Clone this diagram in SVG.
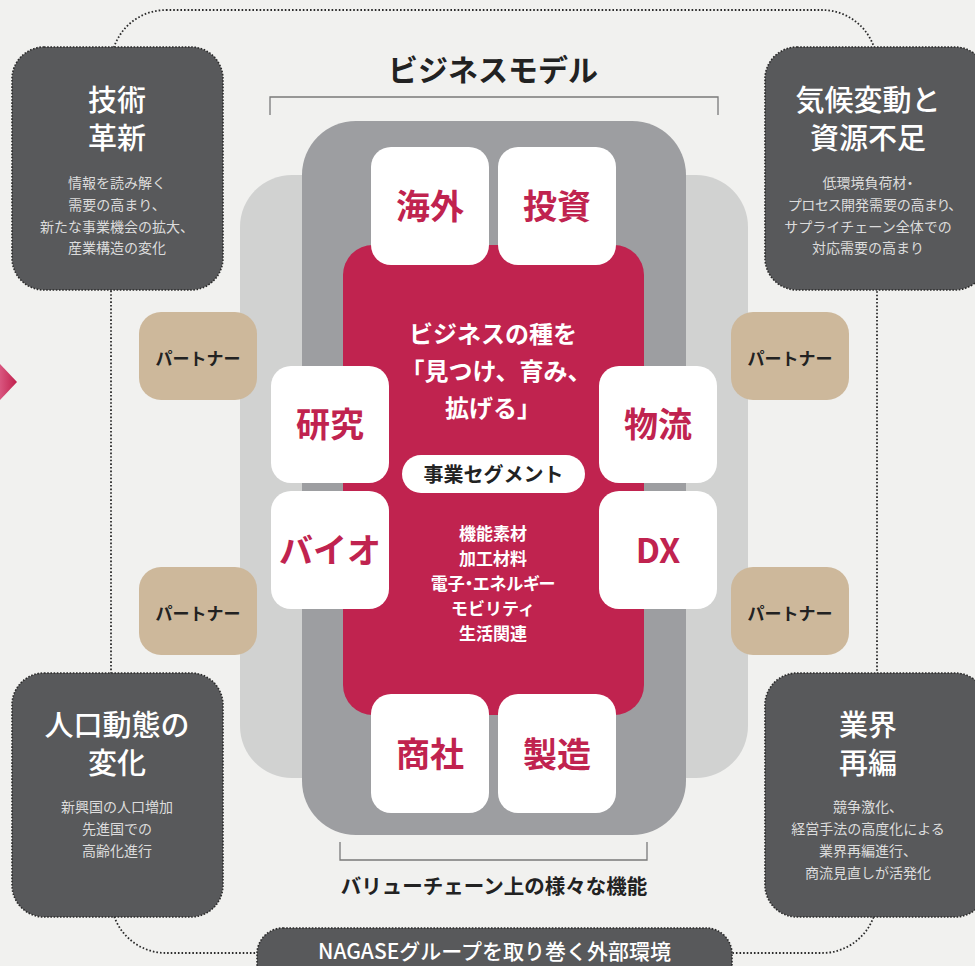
<svg xmlns="http://www.w3.org/2000/svg" width="975" height="966" viewBox="0 0 975 966">
<defs>
<linearGradient id="arrowGrad" x1="0" y1="0" x2="1" y2="0">
<stop offset="0" stop-color="#d9567f"/>
<stop offset="1" stop-color="#c0204c"/>
</linearGradient>
<style>
text{font-family:"Noto Sans CJK JP","Noto Sans",sans-serif;}
.palt{font-feature-settings:"palt";}
.env{fill:#58595b;stroke:#2b2b2b;stroke-width:1.6;stroke-dasharray:1.6 1.6;}
.envT{fill:#ffffff;font-size:29px;font-weight:500;text-anchor:middle;}
.envS{fill:#dcdcdc;font-size:14px;font-weight:400;text-anchor:middle;}
.white{fill:#ffffff;}
.func{fill:#c0234f;font-size:34px;font-weight:700;text-anchor:middle;}
.partner{fill:#cdb89b;}
.partnerT{fill:#222222;font-size:17px;font-weight:700;text-anchor:middle;}
.seg{fill:#ffffff;font-size:17px;font-weight:700;text-anchor:middle;}
.bracket{fill:none;stroke:#7a7a7a;stroke-width:1.3;}
.dots{fill:none;stroke:#2b2b2b;stroke-width:1.8;stroke-dasharray:1.6 2;}
</style>
</defs>
<rect x="0" y="0" width="975" height="966" fill="#f1f1ef"/>

<g id="connectors">
<rect class="dots" x="111" y="10" width="766" height="943" rx="55" ry="55"/>
</g>

<polygon id="arrow" points="0,364 17,382 0,400" fill="url(#arrowGrad)"/>

<g id="title">
<text x="493" y="81" font-size="30" font-weight="700" fill="#222" text-anchor="middle">ビジネスモデル</text>
<path class="bracket" d="M270,115 V97 H718 V115"/>
</g>

<g id="layers">
<rect x="240" y="175" width="508" height="603" rx="52" fill="#d1d2d1"/>
<rect x="302" y="121" width="384" height="714" rx="54" fill="#9d9ea1"/>
</g>

<g id="core">
<rect x="343" y="245" width="301" height="470" rx="30" fill="#c0234f"/>
<text x="493" y="343" font-size="24" font-weight="700" fill="#fff" text-anchor="middle">ビジネスの種を</text>
<text x="496" y="380" font-size="24" font-weight="700" fill="#fff" text-anchor="middle">「見つけ、育み、</text>
<text x="493" y="417" font-size="24" font-weight="700" fill="#fff" text-anchor="middle">拡げる」</text>
</g>

<g id="segment">
<rect x="402" y="455" width="183" height="38" rx="19" fill="#fff"/>
<text x="493.5" y="482" font-size="20" font-weight="700" fill="#222" text-anchor="middle">事業セグメント</text>
<text class="seg" x="493" y="540">機能素材</text>
<text class="seg" x="493" y="565">加工材料</text>
<text class="seg palt" x="493" y="590">電子・エネルギー</text>
<text class="seg" x="493" y="615">モビリティ</text>
<text class="seg" x="493" y="640">生活関連</text>
</g>

<g id="kaigai"><rect class="white" x="371" y="147" width="118" height="118" rx="20"/><text class="func" x="430" y="219">海外</text></g>
<g id="toushi"><rect class="white" x="498" y="147" width="118" height="118" rx="20"/><text class="func" x="557" y="219">投資</text></g>
<g id="kenkyu"><rect class="white" x="271" y="366" width="118" height="117" rx="20"/><text class="func" x="330" y="437">研究</text></g>
<g id="butsuryu"><rect class="white" x="599" y="366" width="118" height="117" rx="20"/><text class="func" x="658" y="437">物流</text></g>
<g id="bio"><rect class="white" x="271" y="491" width="118" height="118" rx="20"/><text class="func" x="330" y="563">バイオ</text></g>
<g id="dx"><rect class="white" x="599" y="491" width="118" height="118" rx="20"/><text class="func" x="658" y="563" font-size="36">DX</text></g>
<g id="shosha"><rect class="white" x="371" y="694" width="118" height="119" rx="20"/><text class="func" x="430" y="767">商社</text></g>
<g id="seizo"><rect class="white" x="498" y="694" width="118" height="119" rx="20"/><text class="func" x="557" y="767">製造</text></g>

<g id="partner-lt"><rect class="partner" x="139" y="312" width="118" height="88" rx="22"/><text class="partnerT" x="198" y="365">パートナー</text></g>
<g id="partner-lb"><rect class="partner" x="139" y="567" width="118" height="88" rx="22"/><text class="partnerT" x="198" y="620">パートナー</text></g>
<g id="partner-rt"><rect class="partner" x="731" y="312" width="118" height="88" rx="22"/><text class="partnerT" x="790" y="365">パートナー</text></g>
<g id="partner-rb"><rect class="partner" x="731" y="567" width="118" height="88" rx="22"/><text class="partnerT" x="790" y="620">パートナー</text></g>

<g id="bottom-label">
<path class="bracket" d="M340,842 V860 H647 V842"/>
<text x="494" y="894" font-size="20.5" font-weight="700" fill="#222" text-anchor="middle">バリューチェーン上の様々な機能</text>
</g>

<g id="env-tech">
<rect class="env" x="12" y="47" width="211" height="243" rx="32"/>
<text class="envT" x="117" y="111">技術</text>
<text class="envT" x="117" y="149">革新</text>
<text class="envS" x="117" y="188">情報を読み解く</text>
<text class="envS" x="117" y="210">需要の高まり、</text>
<text class="envS" x="117" y="232">新たな事業機会の拡大、</text>
<text class="envS" x="117" y="253">産業構造の変化</text>
</g>

<g id="env-climate">
<rect class="env" x="765" y="47" width="222" height="243" rx="32"/>
<text class="envT" x="868" y="111">気候変動と</text>
<text class="envT" x="868" y="149">資源不足</text>
<text class="envS palt" x="868" y="188">低環境負荷材・</text>
<text class="envS palt" x="872" y="210">プロセス開発需要の高まり、</text>
<text class="envS" x="868" y="232">サプライチェーン全体での</text>
<text class="envS" x="868" y="253">対応需要の高まり</text>
</g>

<g id="env-population">
<rect class="env" x="12" y="673" width="211" height="244" rx="32"/>
<text class="envT" x="117" y="736">人口動態の</text>
<text class="envT" x="117" y="774">変化</text>
<text class="envS" x="117" y="812">新興国の人口増加</text>
<text class="envS" x="117" y="834">先進国での</text>
<text class="envS" x="117" y="856">高齢化進行</text>
</g>

<g id="env-industry">
<rect class="env" x="765" y="673" width="222" height="244" rx="32"/>
<text class="envT" x="868" y="736">業界</text>
<text class="envT" x="868" y="774">再編</text>
<text class="envS" x="868" y="812">競争激化、</text>
<text class="envS" x="868" y="834">経営手法の高度化による</text>
<text class="envS" x="868" y="856">業界再編進行、</text>
<text class="envS" x="868" y="878">商流見直しが活発化</text>
</g>

<g id="env-label">
<rect class="env" x="257" y="928" width="475" height="70" rx="26"/>
<text x="494.5" y="959" font-size="21" font-weight="500" fill="#fff" text-anchor="middle">NAGASEグループを取り巻く外部環境</text>
</g>
</svg>
